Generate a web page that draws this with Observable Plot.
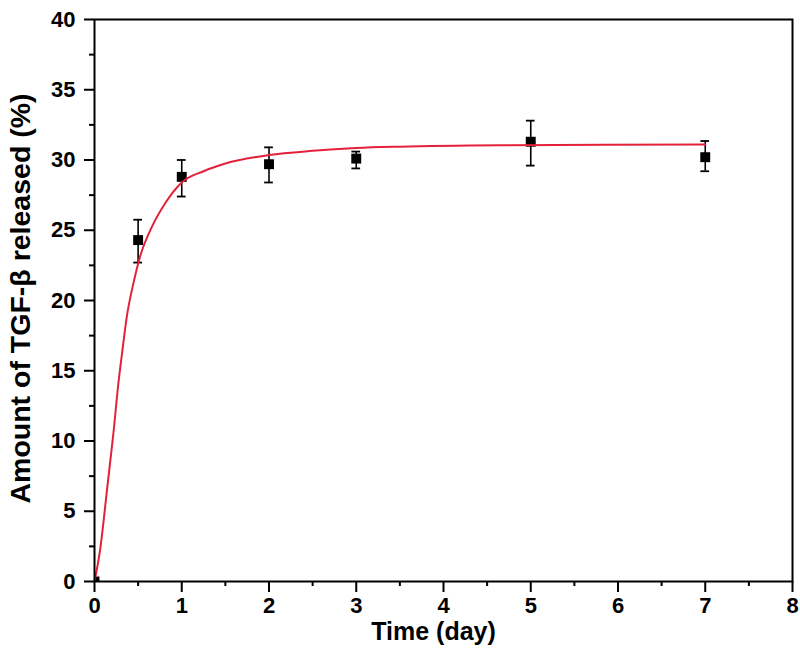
<!DOCTYPE html>
<html><head><meta charset="utf-8">
<script src="https://cdn.jsdelivr.net/npm/d3@7"></script>
<script src="https://cdn.jsdelivr.net/npm/@observablehq/plot@0.6"></script>
<style>body{margin:0;background:#fff}</style>
</head><body><div id="chart"></div>
<script>
// Measured release data
const days = [0, 0.5, 1, 2, 3, 5, 7];
const released = [0, 24.3, 28.8, 29.7, 30.1, 31.3, 30.2];
const errLow = [0, 22.7, 27.4, 28.4, 29.4, 29.6, 29.2];
const errHigh = [0, 25.75, 30.0, 30.9, 30.6, 32.8, 31.35];
// Fitted curve
const fitDays = [0, 0.063, 0.151, 0.216, 0.273, 0.319, 0.369, 0.445, 0.521, 0.655, 0.808, 1.0, 1.25, 1.5, 2.0, 2.5, 3.0, 3.5, 4.65, 7.0];
const fitValues = [0, 2.2, 6.95, 10.5, 14.07, 16.4, 18.8, 21.2, 23.1, 25.2, 26.9, 28.4, 29.2, 29.75, 30.35, 30.65, 30.85, 30.95, 31.05, 31.1];
// Ticks
const xTicks = [0, 1, 2, 3, 4, 5, 6, 7, 8];
const xMinorTicks = [0.5, 1.5, 2.5, 3.5, 4.5, 5.5, 6.5, 7.5];
const yTicks = [0, 5, 10, 15, 20, 25, 30, 35, 40];
const yMinorTicks = [2.5, 7.5, 12.5, 17.5, 22.5, 27.5, 32.5, 37.5];
const xTitle = "Time (day)";
const yTitle = "Amount of TGF-\u03B2 released (%)";

const points = days.map((d, i) => ({day: d, value: released[i], lo: errLow[i], hi: errHigh[i]}));
const bars = points.filter(p => p.hi > p.lo);
const fit = fitDays.map((d, i) => ({day: d, value: fitValues[i]}));
const capHalf = 0.05;

const chart = Plot.plot({
  width: 800,
  height: 657,
  marginLeft: 94,
  marginRight: 8,
  marginTop: 19,
  marginBottom: 76,
  style: {fontFamily: "'Liberation Sans', Arial, sans-serif", fontWeight: "bold", fontSize: "22px", color: "#000", background: "#fff"},
  x: {domain: [0, 8], label: null},
  y: {domain: [0, 40], label: null},
  marks: [
    Plot.axisX({ticks: xMinorTicks, tickSize: 5, tickFormat: () => "", strokeWidth: 2, label: null}),
    Plot.axisY({ticks: yMinorTicks, tickSize: 5, tickFormat: () => "", strokeWidth: 2, label: null}),
    Plot.axisX({ticks: xTicks, tickSize: 11, tickPadding: 5, tickFormat: d => String(d), strokeWidth: 2, label: null, fontSize: 22, fontWeight: "bold"}),
    Plot.axisY({ticks: yTicks, tickSize: 10, tickPadding: 9, tickFormat: d => String(d), strokeWidth: 2, label: null, fontSize: 22, fontWeight: "bold"}),
    Plot.ruleX(bars, {x: "day", y1: "lo", y2: "hi", stroke: "#000", strokeWidth: 1.6}),
    Plot.ruleY(bars, {y: "hi", x1: d => d.day - capHalf, x2: d => d.day + capHalf, stroke: "#000", strokeWidth: 1.8}),
    Plot.ruleY(bars, {y: "lo", x1: d => d.day - capHalf, x2: d => d.day + capHalf, stroke: "#000", strokeWidth: 1.8}),
    Plot.dot(points, {x: "day", y: "value", symbol: "square", r: 5.6, fill: "#000", stroke: null, clip: true}),
    Plot.line(fit, {x: "day", y: "value", stroke: "#e3213b", strokeWidth: 2, curve: "monotone-x"}),
    Plot.frame({stroke: "#000", strokeWidth: 2}),
    Plot.text([xTitle], {frameAnchor: "bottom", dx: -10, dy: 58, text: d => d, fontSize: 25, fontWeight: "bold", fill: "#000"}),
    Plot.text([yTitle], {frameAnchor: "left", textAnchor: "middle", dx: -74, dy: -2, rotate: -90, text: d => d, fontSize: 28.5, fontWeight: "bold", fill: "#000"})
  ]
});
document.getElementById("chart").append(chart);
</script>
</body></html>
